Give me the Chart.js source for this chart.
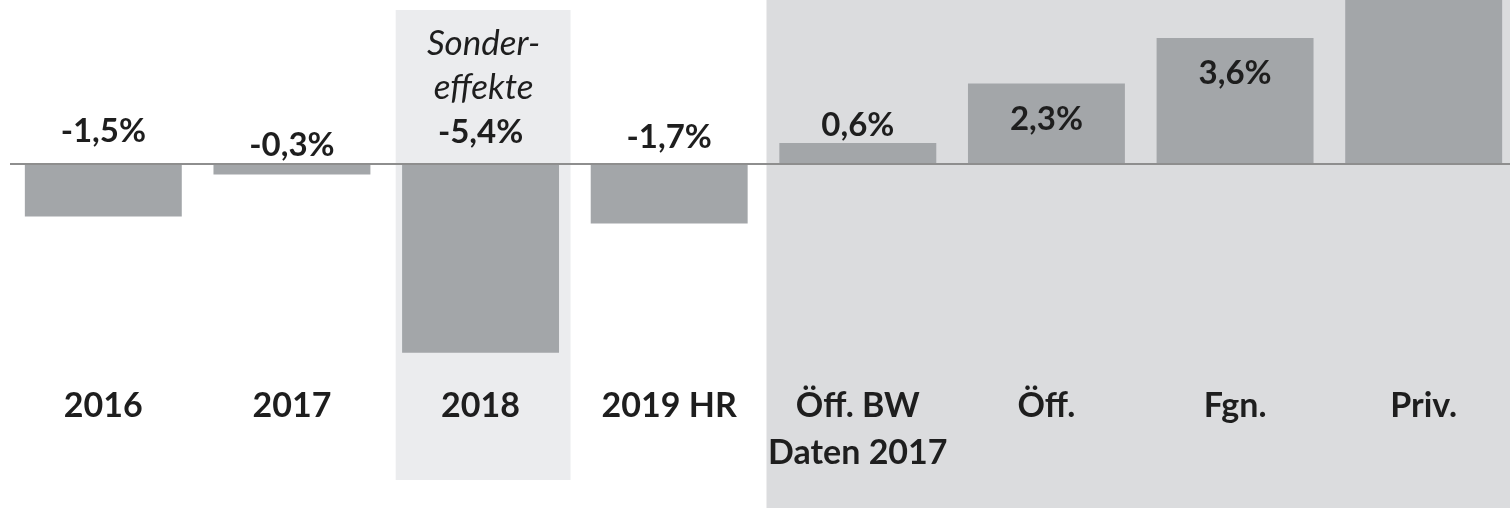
<!DOCTYPE html>
<html><head><meta charset="utf-8">
<script src="https://cdn.jsdelivr.net/npm/chart.js@4/dist/chart.umd.min.js"></script>
<style>
html,body{margin:0;padding:0;overflow:hidden;background:#fff;width:1510px;height:508px}
#wrap{position:absolute;left:0;top:0;width:1520px;height:508px}
</style></head>
<body><div id="wrap"><canvas id="c"></canvas></div>
<script>
const categories = ["2016", "2017", "2018", "2019 HR", ["Öff. BW", "Daten 2017"], "Öff.", "Fgn.", "Priv."];
const values = [-1.5, -0.3, -5.4, -1.7, 0.6, 2.3, 3.6, 6.5];
const valueLabels = ["-1,5%", "-0,3%", "-5,4%", "-1,7%", "0,6%", "2,3%", "3,6%", ""];
const noteLines = ["Sonder-", "effekte"];
const noteIndex = 2;
const highlightIndex = 2;
const comparisonFrom = 4;

const TEXT = '#1E1E1E';
const labelDy = [-32.5, -19, -31.5, -27, -18, 36, 35, 35];

const deco = {
  id: 'deco',
  beforeDraw(chart) {
    const {ctx, scales: {x}} = chart;
    const step = x.getPixelForValue(1) - x.getPixelForValue(0);
    ctx.save();
    ctx.fillStyle = '#fff';
    ctx.fillRect(0, 0, chart.width, chart.height);
    const c2 = x.getPixelForValue(highlightIndex);
    ctx.fillStyle = '#EBECEE';
    ctx.fillRect(c2 - step * 0.45, 10, step * 0.927, 470);
    const left = x.getPixelForValue(comparisonFrom) - step / 2 + 3;
    ctx.fillStyle = '#DBDCDE';
    ctx.fillRect(left, 0, chart.width - left, chart.height);
    ctx.restore();
  },
  afterDatasetsDraw(chart) {
    const {ctx, scales: {y}} = chart;
    const zeroY = y.getPixelForValue(0);
    ctx.save();
    ctx.strokeStyle = '#8E8E8E';
    ctx.lineWidth = 2;
    ctx.beginPath();
    ctx.moveTo(10, zeroY);
    ctx.lineTo(chart.width, zeroY);
    ctx.stroke();
    const meta = chart.getDatasetMeta(0);
    ctx.fillStyle = TEXT;
    ctx.textAlign = 'center';
    ctx.textBaseline = 'middle';
    meta.data.forEach((el, i) => {
      const v = values[i];
      const anchor = v < 0 ? zeroY : el.y;
      const ly = anchor + labelDy[i];
      if (valueLabels[i] && ly > 0) {
        ctx.font = 'bold 33px Lato';
        ctx.fillText(valueLabels[i], el.x, ly);
      }
      if (i === noteIndex) {
        ctx.font = 'italic 35px Lato';
        noteLines.forEach((t, k) => {
          ctx.fillText(t, el.x + 3, ly - 44.5 * (noteLines.length - k));
        });
      }
    });
    ctx.restore();
  }
};

new Chart(document.getElementById('c'), {
  type: 'bar',
  data: {
    labels: categories,
    datasets: [{
      data: values,
      backgroundColor: '#A3A6A9',
      barPercentage: 0.832,
      categoryPercentage: 1
    }]
  },
  options: {
    responsive: true,
    maintainAspectRatio: false,
    animation: false,
    layout: {padding: {left: 9, right: 2, top: 0, bottom: 21}},
    plugins: {legend: {display: false}, tooltip: {enabled: false}},
    scales: {
      x: {
        grid: {display: false},
        border: {display: false},
        ticks: {
          color: TEXT,
          font: {family: 'Lato', size: 34, weight: 'bold', lineHeight: 1.4},
          padding: 10,
          autoSkip: false,
          maxRotation: 0
        }
      },
      y: {display: false, min: -5.714, max: 4.686}
    }
  },
  plugins: [deco]
});
</script>
</body></html>
